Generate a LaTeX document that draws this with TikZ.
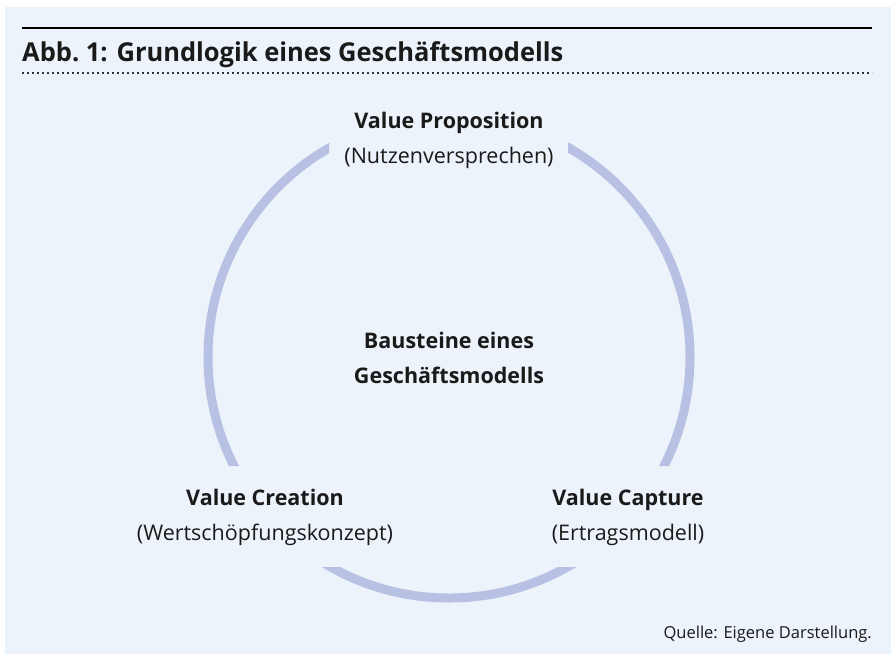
\documentclass[tikz,border=0pt]{standalone}
\usepackage{fontspec}
\setmainfont{Open Sans}
\definecolor{bgblue}{HTML}{ECF3FB}
\definecolor{ringblue}{HTML}{B8C0E4}
\definecolor{txt}{HTML}{1A1A1A}
\tikzset{
  lbl/.style={font=\fontsize{21.5}{26}\selectfont, text=txt, anchor=base, inner sep=0pt},
  lblb/.style={lbl, font=\fontsize{21.5}{26}\selectfont\bfseries},
}
\begin{document}
\begin{tikzpicture}[x=1pt,y=-1pt]
\useasboundingbox (0,0) rectangle (891,654);
\fill[bgblue] (5,7) rectangle (891,654);
% rules
\draw[line width=2.5pt, black] (22,28) -- (872,28);
\draw[line width=2pt, black!80, dash pattern=on 1.6pt off 3.4pt] (22,73) -- (872,73);
\node[anchor=base west, inner sep=0pt, text=txt] (title) at (22,61)
  {\scalebox{0.98}[1]{\fontsize{26}{30}\selectfont\bfseries Abb.\ 1: Grundlogik eines Geschäftsmodells}};
% ring
\begin{scope}[even odd rule]
\clip (0,0) rectangle (891,654)
  (329,0) rectangle (568,200)
  (0,466) rectangle (891,567);
\draw[ringblue, line width=9pt] (449,357) circle[radius=241];
\end{scope}
% labels
\node[lblb] (vp) at (449,128) {Value Proposition};
\node[lbl] (vps) at (449,163) {(Nutzenversprechen)};
\node[lblb] (c1) at (449,348) {Bausteine eines};
\node[lblb] (c2) at (449,383) {Geschäftsmodells};
\node[lblb] (vc) at (265,505) {Value Creation};
\node[lbl] (vcs) at (265,540) {(Wertschöpfungskonzept)};
\node[lblb] (vca) at (628,505) {Value Capture};
\node[lbl] (vcas) at (628,540) {(Ertragsmodell)};
\node[anchor=base east, inner sep=0pt, text=txt, font=\fontsize{16.5}{20}\selectfont] (src) at (872,638) {Quelle: Eigene Darstellung.};
\end{tikzpicture}
\end{document}
